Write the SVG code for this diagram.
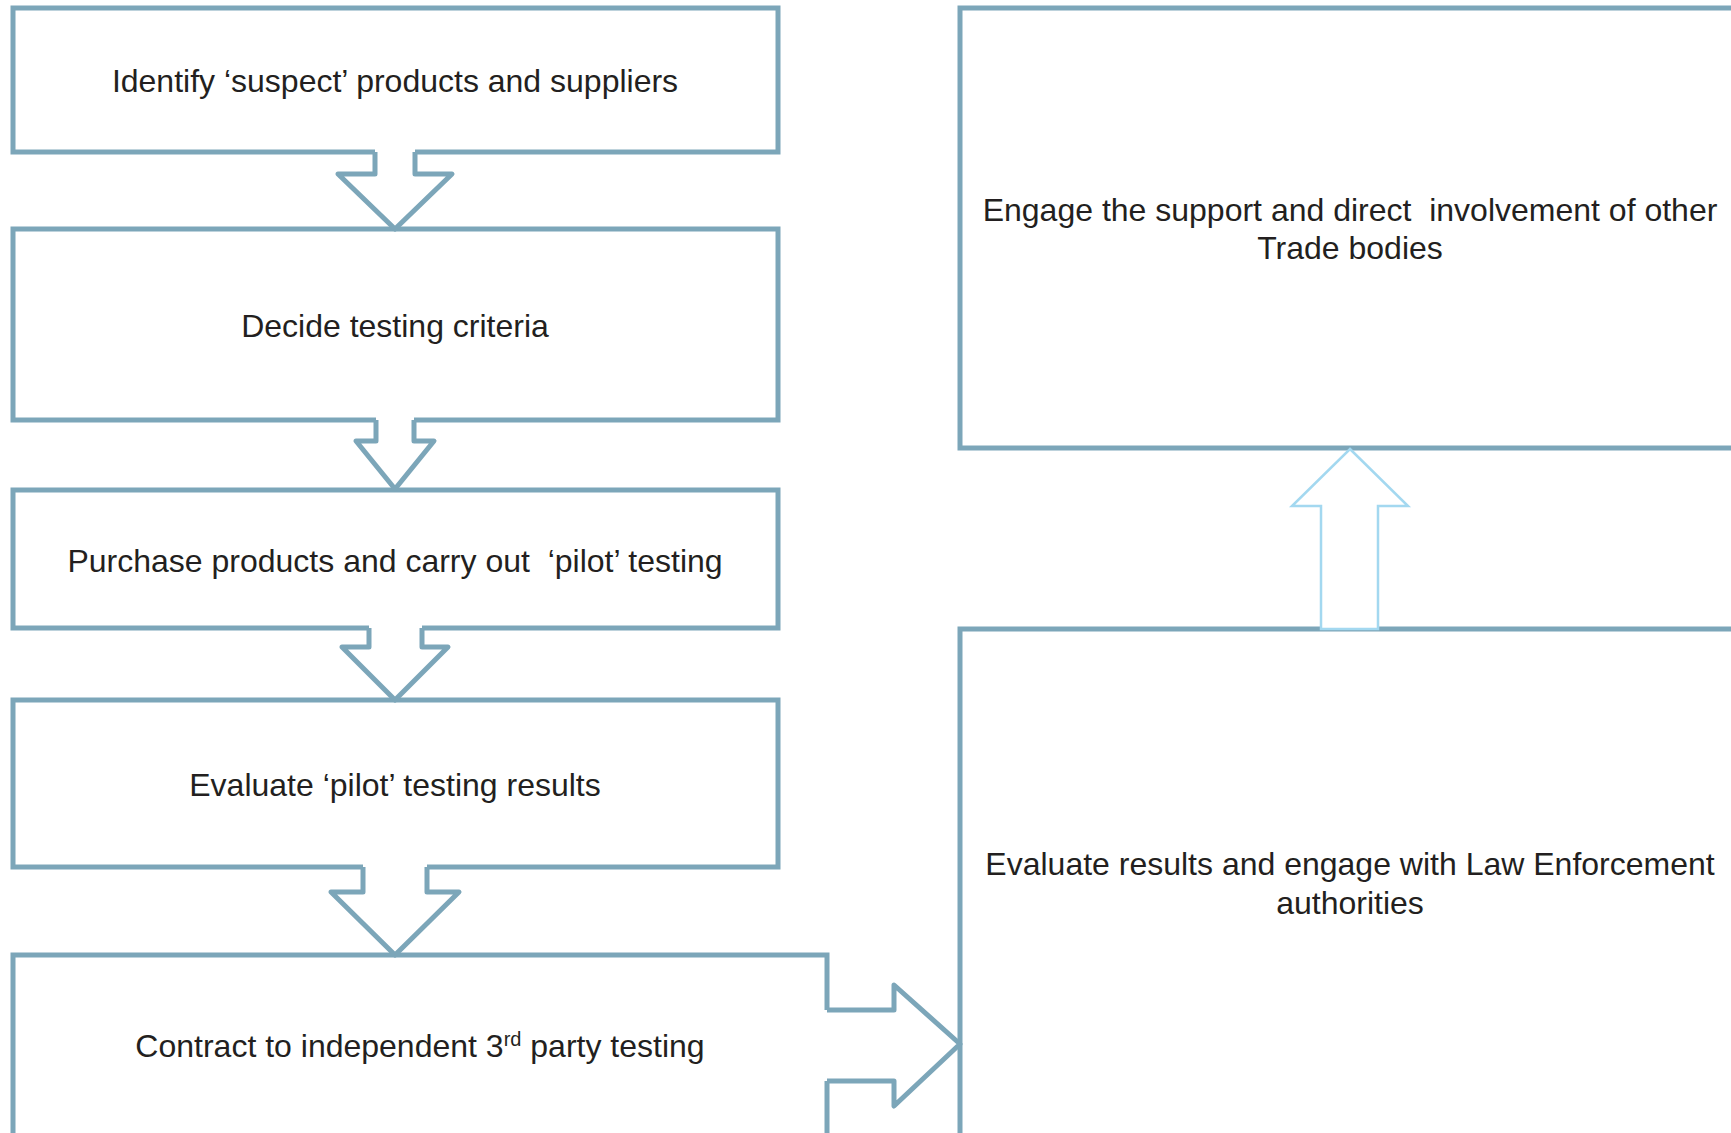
<svg xmlns="http://www.w3.org/2000/svg" width="1731" height="1133" viewBox="0 0 1731 1133">
<style>
.box{fill:#ffffff;stroke:#7CA6B9;stroke-width:5}
.cover{fill:#ffffff;stroke:none}
.arr{fill:none;stroke:#7CA6B9;stroke-width:5;stroke-linejoin:round}
.up{fill:#ffffff;stroke:#A3D8F0;stroke-width:2.5}
.t{font-family:"Liberation Sans",Arial,sans-serif;font-size:32px;fill:#231F20;text-anchor:middle;white-space:pre}
</style>
<rect width="1731" height="1133" fill="#ffffff"/>
<g transform="translate(0,1)">
<g id="n1"><rect class="box" x="13" y="7" width="765" height="144"/><text class="t" x="395" y="91">Identify ‘suspect’ products and suppliers</text></g>
<g id="n2"><rect class="box" x="13" y="228" width="765" height="191"/><text class="t" x="395" y="336">Decide testing criteria</text></g>
<g id="n3"><rect class="box" x="13" y="489" width="765" height="138"/><text class="t" x="395" y="571" xml:space="preserve">Purchase products and carry out  ‘pilot’ testing</text></g>
<g id="n4"><rect class="box" x="13" y="699" width="765" height="167"/><text class="t" x="395" y="795">Evaluate ‘pilot’ testing results</text></g>
<g id="n5"><rect class="box" x="13" y="954" width="814" height="200"/><text class="t" x="420" y="1056">Contract to independent 3<tspan font-size="20" dy="-11">rd</tspan><tspan dy="11"> party testing</tspan></text></g>
<g id="n6"><rect class="box" x="960" y="628" width="790" height="530"/><text class="t" x="1350" y="874">Evaluate results and engage with Law Enforcement</text><text class="t" x="1350" y="913">authorities</text></g>
<g id="n7"><rect class="box" x="960" y="7" width="790" height="440"/><text class="t" x="1350" y="220" xml:space="preserve">Engage the support and direct  involvement of other</text><text class="t" x="1350" y="258">Trade bodies</text></g>
<g id="connectors">
<polygon class="cover" points="375,145 375,173 338,173 395,228 452,173 415,173 415,145"/>
<polyline class="arr" points="375,151 375,173 338,173 395,228 452,173 415,173 415,151"/>
<polygon class="cover" points="376,413 376,440 356,440 395,488 434,440 414,440 414,413"/>
<polyline class="arr" points="376,419 376,440 356,440 395,488 434,440 414,440 414,419"/>
<polygon class="cover" points="369,621 369,646 342,646 395,699 448,646 422,646 422,621"/>
<polyline class="arr" points="369,627 369,646 342,646 395,699 448,646 422,646 422,627"/>
<polygon class="cover" points="363,860 363,891 331,891 395,954 459,891 427,891 427,860"/>
<polyline class="arr" points="363,866 363,891 331,891 395,954 459,891 427,891 427,866"/>
<polygon class="cover" points="821,1009 894,1009 894,984 960,1043 894,1105 894,1080 821,1080"/>
<polyline class="arr" points="827,1009 894,1009 894,984 960,1043 894,1105 894,1080 827,1080"/>
<polygon class="up" points="1350,448 1408,505 1378,505 1378,628 1321,628 1321,505 1292,505"/>
</g>
</g>
</svg>
